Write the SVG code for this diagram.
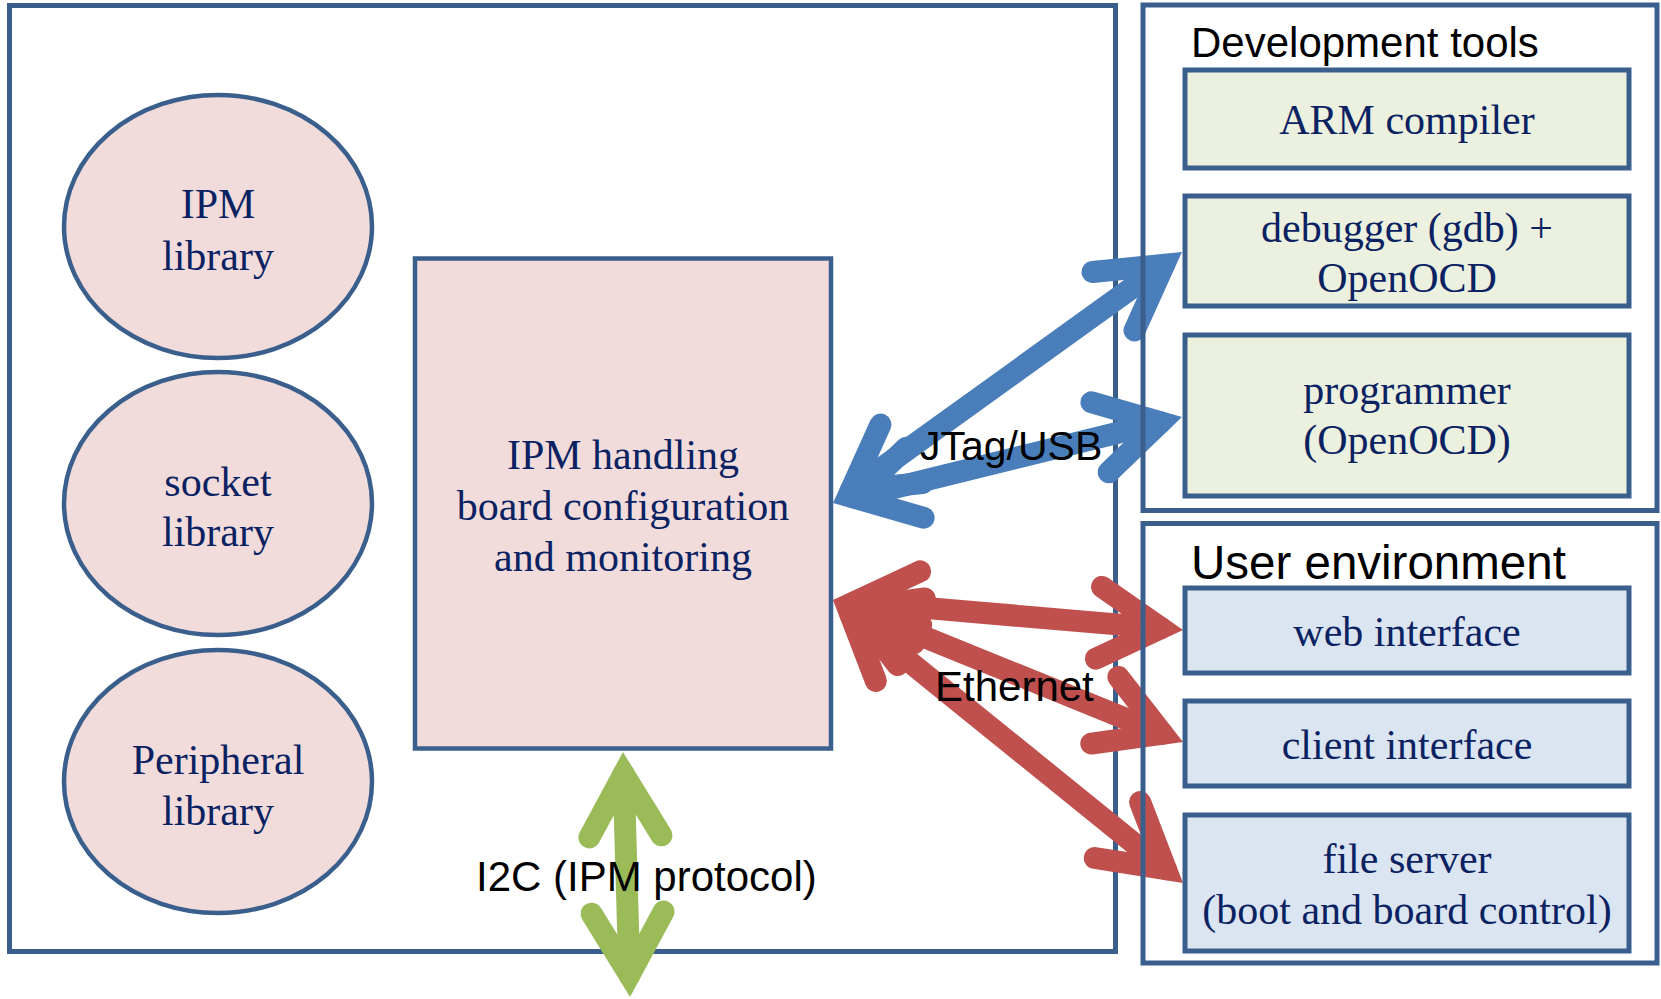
<svg xmlns="http://www.w3.org/2000/svg" width="1661" height="999" viewBox="0 0 1661 999">
<style>
.frame{fill:none;stroke:#3b5f8c;stroke-width:5}
.lib{fill:#f2dcdb;stroke:#3b5f8c;stroke-width:4.5}
.dev{fill:#ebf1de;stroke:#3b5f8c;stroke-width:5}
.usr{fill:#dbe5f1;stroke:#3b5f8c;stroke-width:5}
.st{font-family:"Liberation Serif","Times New Roman",serif;font-size:42px;fill:#0a2262;text-anchor:middle}
.ss{font-family:"Liberation Sans",Arial,sans-serif;fill:#000}
.arr{fill:none;stroke-width:22;stroke-linecap:round;stroke-linejoin:miter;stroke-miterlimit:4}
.blue{stroke:#4a7ebb}
.red{stroke:#c0504d}
.green{stroke:#9bbb59}
</style>
<rect x="0" y="0" width="1661" height="999" fill="#fff"/>
<g id="main-frame">
<rect class="frame" x="9.5" y="5.5" width="1106" height="946" fill="#fff"/>
</g>
<g id="ipm-library">
<ellipse class="lib" cx="218" cy="226.5" rx="154" ry="131.5"/>
<text class="st" x="218" y="218">IPM</text>
<text class="st" x="218" y="270">library</text>
</g>
<g id="socket-library">
<ellipse class="lib" cx="218" cy="503.5" rx="154" ry="131.5"/>
<text class="st" x="218" y="496">socket</text>
<text class="st" x="218" y="546">library</text>
</g>
<g id="peripheral-library">
<ellipse class="lib" cx="218" cy="781.5" rx="154" ry="131.5"/>
<text class="st" x="218" y="774">Peripheral</text>
<text class="st" x="218" y="825">library</text>
</g>
<g id="ipm-handling">
<rect class="lib" x="415" y="258.5" width="416" height="490"/>
<text class="st" x="623" y="469">IPM handling</text>
<text class="st" x="623" y="520">board configuration</text>
<text class="st" x="623" y="571">and monitoring</text>
</g>
<g id="connectors">
<g class="arr blue">
<line x1="850.9" y1="490.2" x2="1164.1" y2="264.8"/>
<polyline points="922.5,483 850.9,490.2 880.5,424.6"/>
<polyline points="1092.5,272 1164.1,264.8 1134.5,330.4"/>
<line x1="854.4" y1="497.7" x2="1160.6" y2="422.3"/>
<polyline points="923.6,517.7 854.4,497.7 906.3,447.8"/>
<polyline points="1091.4,402.3 1160.6,422.3 1108.7,472.2"/>
</g>
<g class="arr red">
<line x1="854.9" y1="601.9" x2="1161.1" y2="628.1"/>
<polyline points="913.9,643.1 854.9,601.9 920.1,571.4"/>
<polyline points="1102.1,586.9 1161.1,628.1 1095.9,658.6"/>
<line x1="853.4" y1="608.3" x2="1162.6" y2="733.7"/>
<polyline points="897.6,665.1 853.4,608.3 924.7,598.4"/>
<polyline points="1118.4,676.9 1162.6,733.7 1091.3,743.6"/>
<line x1="850.1" y1="613.8" x2="1165.9" y2="869.2"/>
<polyline points="875.9,681 850.1,613.8 921.2,625"/>
<polyline points="1140.1,802 1165.9,869.2 1094.8,858"/>
</g>
<g class="arr green">
<line x1="623.6" y1="774" x2="629.4" y2="975"/>
<polyline points="589.4,837.4 623.6,774 661.4,835.3"/>
<polyline points="663.6,911.6 629.4,975 591.6,913.7"/>
</g>
<text class="ss" x="920" y="460" font-size="41">JTag/USB</text>
<text class="ss" x="935" y="701" font-size="42">Ethernet</text>
<text class="ss" x="476" y="891" font-size="42">I2C (IPM protocol)</text>
</g>
<g id="development-tools">
<rect class="frame" x="1143" y="5" width="514" height="505.5"/>
<text class="ss" x="1191" y="57" font-size="42">Development tools</text>
</g>
<g id="arm-compiler">
<rect class="dev" x="1185" y="70" width="444" height="98"/>
<text class="st" x="1407" y="134">ARM compiler</text>
</g>
<g id="debugger">
<rect class="dev" x="1185" y="196" width="444" height="110"/>
<text class="st" x="1407" y="242">debugger (gdb) +</text>
<text class="st" x="1407" y="292">OpenOCD</text>
</g>
<g id="programmer">
<rect class="dev" x="1185" y="335" width="444" height="161"/>
<text class="st" x="1407" y="404">programmer</text>
<text class="st" x="1407" y="454">(OpenOCD)</text>
</g>
<g id="user-environment">
<rect class="frame" x="1143" y="523.5" width="514" height="439.5"/>
<text class="ss" x="1191" y="579" font-size="47.5">User environment</text>
</g>
<g id="web-interface">
<rect class="usr" x="1185" y="588" width="444" height="85"/>
<text class="st" x="1407" y="646">web interface</text>
</g>
<g id="client-interface">
<rect class="usr" x="1185" y="701" width="444" height="85"/>
<text class="st" x="1407" y="759">client interface</text>
</g>
<g id="file-server">
<rect class="usr" x="1185" y="815" width="444" height="136"/>
<text class="st" x="1407" y="873">file server</text>
<text class="st" x="1407" y="924">(boot and board control)</text>
</g>
</svg>
